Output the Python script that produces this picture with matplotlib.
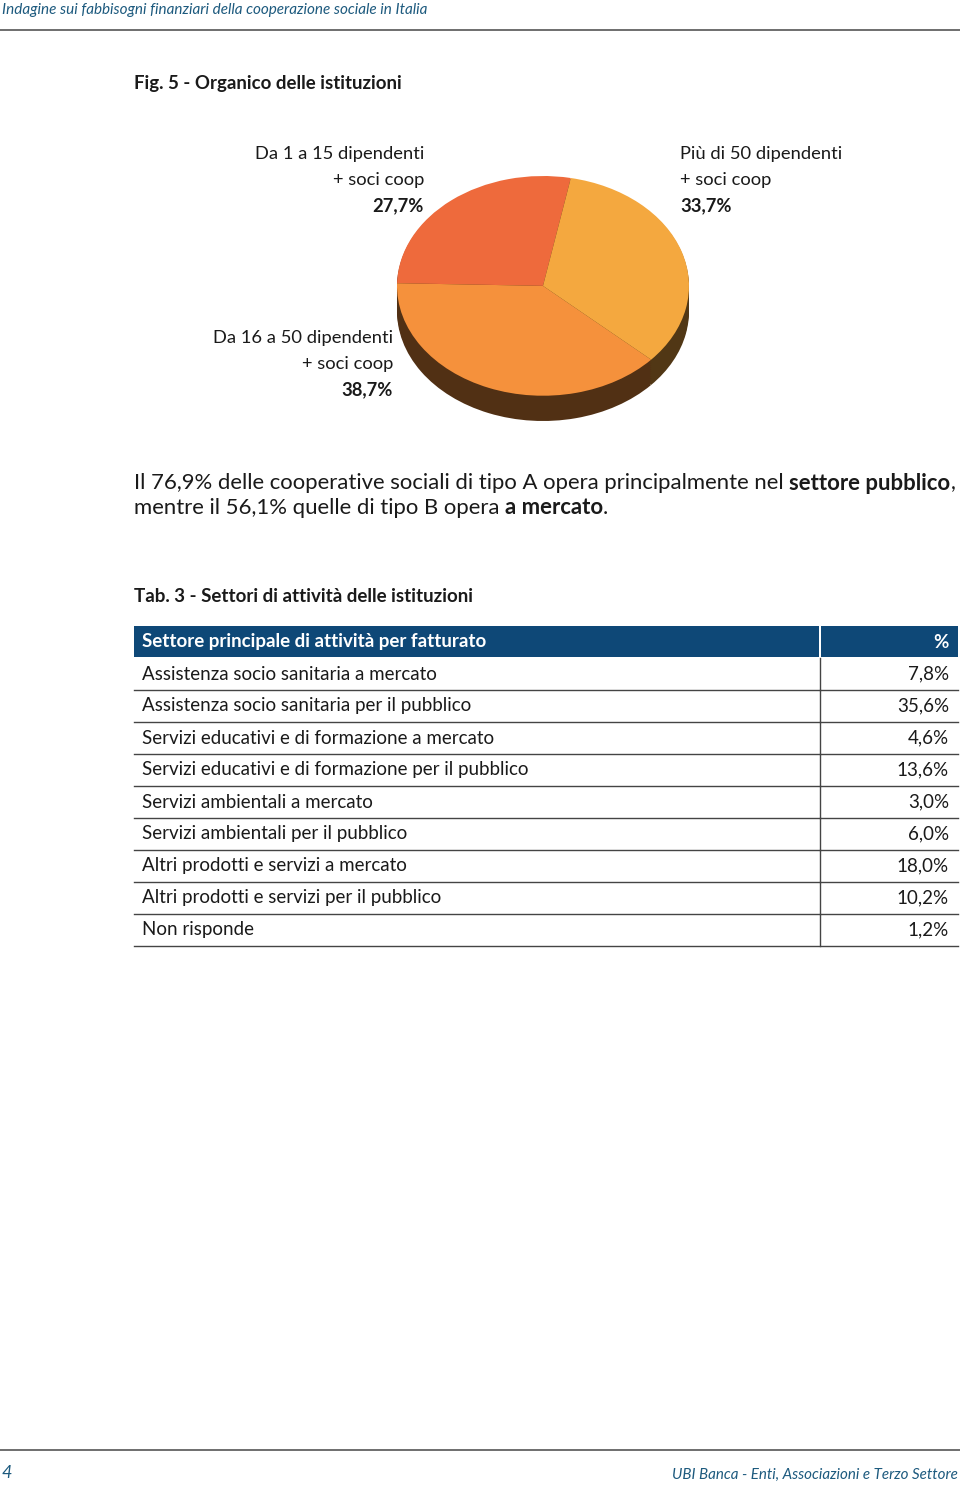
import matplotlib.pyplot as plt
import matplotlib.colors as mcolors
import numpy as np

# ---- data ----
pie_labels = ["Da 1 a 15 dipendenti\n+ soci coop",
              "Da 16 a 50 dipendenti\n+ soci coop",
              "Più di 50 dipendenti\n+ soci coop"]
pie_values = [27.7, 38.7, 33.7]
pie_colors = ["#EE6A3C", "#F5913C", "#F4A83F"]

tab_rows = ["Assistenza socio sanitaria a mercato",
            "Assistenza socio sanitaria per il pubblico",
            "Servizi educativi e di formazione a mercato",
            "Servizi educativi e di formazione per il pubblico",
            "Servizi ambientali a mercato",
            "Servizi ambientali per il pubblico",
            "Altri prodotti e servizi a mercato",
            "Altri prodotti e servizi per il pubblico",
            "Non risponde"]
tab_values = [7.8, 35.6, 4.6, 13.6, 3.0, 6.0, 18.0, 10.2, 1.2]

FONT = "Lato"
BLUE = "#0E4877"
TXT = "#1a1a1a"

W, H = 960, 1486
fig = plt.figure(figsize=(W / 100, H / 100), dpi=100)
fig.patch.set_facecolor("white")

# page axes in pixel coordinates
ax = fig.add_axes([0, 0, 1, 1])
ax.set_xlim(0, W)
ax.set_ylim(H, 0)
ax.axis("off")


def fmt(v):
    return f"{v:.1f}".replace(".", ",") + "%"


# header / footer
ax.text(2, 10, "Indagine sui fabbisogni finanziari della cooperazione sociale in Italia",
        fontsize=11, style="italic", color="#1d5a7e", family=FONT, va="center")
ax.plot([0, W], [30, 30], color="#555555", lw=1.2)
ax.plot([0, W], [1450, 1450], color="#555555", lw=1.2)
ax.text(2, 1473, "4", fontsize=13, style="italic", color="#1d5a7e", family=FONT, va="center")
ax.text(958, 1475, "UBI Banca - Enti, Associazioni e Terzo Settore", fontsize=10.9,
        style="italic", color="#1d5a7e", family=FONT, va="center", ha="right")

ax.text(134, 83, "Fig. 5 - Organico delle istituzioni", fontsize=13.4, weight="bold",
        color=TXT, family=FONT, va="center")

# ---- 3D-ish pie ----
pax = fig.add_axes([397 / W, 1 - 421 / H, 292 / W, 245 / H])

start = 79
side_cols = [tuple(np.array(mcolors.to_rgb(c)) * 0.33) for c in pie_colors]
for dy in np.linspace(-0.23, -0.01, 12):
    pax.pie(pie_values, colors=side_cols, startangle=start, counterclock=True,
            center=(0, dy), radius=1, frame=True,
            wedgeprops=dict(linewidth=0))
pax.pie(pie_values, colors=pie_colors, startangle=start, counterclock=True,
        center=(0, 0), radius=1, frame=True,
        wedgeprops=dict(linewidth=0))
pax.set_xlim(-1, 1)
pax.set_ylim(-1.23, 1)
pax.set_aspect("auto")
pax.axis("off")

# pie labels
label_pos = [(424, 154, "right"), (393, 338, "right"), (680, 154, "left")]
for lab, val, (x, y, ha) in zip(pie_labels, pie_values, label_pos):
    l1, l2 = lab.split("\n")
    ax.text(x, y, l1, fontsize=13.2, color=TXT, family=FONT, va="center", ha=ha)
    ax.text(x, y + 26, l2, fontsize=13.2, color=TXT, family=FONT, va="center", ha=ha)
    ax.text(x, y + 52, fmt(val), fontsize=13.2, weight="bold", color=TXT,
            family=FONT, va="center", ha=ha)

# ---- paragraph with mixed bold runs ----
renderer = fig.canvas.get_renderer()


def runs(x, y, parts, size=15.9):
    for s, bold in parts:
        t = ax.text(x, y, s, fontsize=size, weight="bold" if bold else "normal",
                    color=TXT, family=FONT, va="center")
        bb = t.get_window_extent(renderer)
        x += bb.width


runs(134, 483, [("Il 76,9% delle cooperative sociali di tipo A opera principalmente nel ", False),
                ("settore pubblico", True), (",", False)])
runs(134, 508, [("mentre il 56,1% quelle di tipo B opera ", False),
                ("a mercato", True), (".", False)])

# ---- table ----
ax.text(134, 596, "Tab. 3 - Settori di attività delle istituzioni", fontsize=13.5,
        weight="bold", color=TXT, family=FONT, va="center")

x0, x1, xd = 134, 958, 820
top, rh = 626, 32
ax.add_patch(plt.Rectangle((x0, top), xd - x0 - 1, rh - 1, color=BLUE, lw=0))
ax.add_patch(plt.Rectangle((xd + 1, top), x1 - xd - 1, rh - 1, color=BLUE, lw=0))
ax.text(142, top + rh / 2, "Settore principale di attività per fatturato", fontsize=13.5,
        weight="bold", color="white", family=FONT, va="center")
ax.text(949, top + rh / 2, "%", fontsize=13.5, weight="bold", color="white",
        family=FONT, va="center", ha="right")

for i, (name, val) in enumerate(zip(tab_rows, tab_values)):
    yt = top + rh * (i + 1)
    ax.text(142, yt + rh / 2, name, fontsize=13.5, color=TXT, family=FONT, va="center")
    ax.text(949, yt + rh / 2, fmt(val), fontsize=13.5, color=TXT, family=FONT,
            va="center", ha="right")
    ax.plot([x0, x1], [yt + rh, yt + rh], color="#444444", lw=1)
    ax.plot([xd, xd], [yt, yt + rh], color="#444444", lw=1)

fig.savefig("out.png", dpi=100, facecolor="white")
